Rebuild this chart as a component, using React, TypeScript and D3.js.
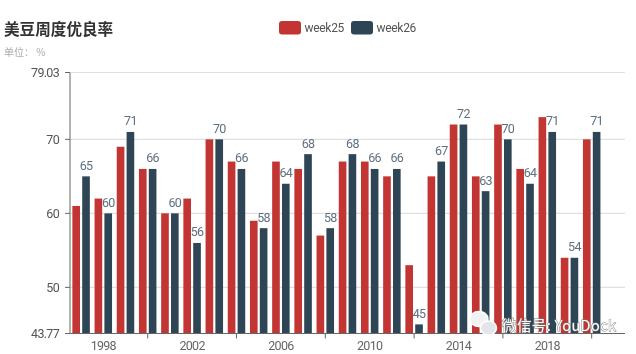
import React from "react";
import * as d3 from "d3";

const years = ["1997","1998","1999","2000","2001","2002","2003","2004","2005","2006","2007","2008","2009","2010","2011","2012","2013","2014","2015","2016","2017","2018","2019","2020","2021"];
const labelYears = ["1998","2002","2006","2010","2014","2018"];
const tickYears = ["2000","2004","2008","2012","2016","2020"];
const week25 = [61,62,69,66,60,62,70,67,59,67,66,57,67,67,65,53,65,72,65,72,66,73,54,70];
const week26 = [65,60,71,66,60,56,70,66,58,64,68,58,68,66,66,45,67,72,63,70,64,71,54,71];
const yTicks = [43.77,50,60,70,79.03];
const seriesNames = ["week25","week26"];
const seriesColors = ["#c23531","#2f4554"];

const FONT = 'Roboto,"Noto Sans",sans-serif';
const CJK = '"Noto Sans CJK SC",sans-serif';

export default function App() {
  const x = d3.scaleBand<string>().domain(years).range([70, 625]);
  const inner = d3.scaleBand<string>().domain(seriesNames).range([0, x.bandwidth()]).paddingInner(0.224).paddingOuter(0.24);
  const y = d3.scaleLinear().domain([43.77, 79.03]).range([333.5, 72.5]);
  const series = [week25, week26];
  const center = (yr: string) => (x(yr) as number) + x.bandwidth() / 2;
  return (
    <svg width={636} height={354} style={{ position: "absolute", left: 0, top: 0, background: "#fff" }}>
      <defs>
        <filter id="soft" x="-2%" y="-2%" width="104%" height="104%">
          <feGaussianBlur stdDeviation="0.5" />
        </filter>
      </defs>
      <g filter="url(#soft)">
        {yTicks.filter(t => t !== 43.77).map(t => (
          <line key={t} x1={70} x2={625} y1={y(t)} y2={y(t)} stroke="#e0e0e0" strokeWidth={1.2} />
        ))}
        {series.map((vals, s) => vals.map((v, i) => (
          <rect key={`${s}-${i}`} x={(x(years[i]) as number) + (inner(seriesNames[s]) as number)} width={inner.bandwidth()} y={y(v)} height={y(43.77) - y(v)} fill={seriesColors[s]} />
        )))}
        <line x1={70} x2={70} y1={72.5} y2={333.5} stroke="#666" strokeWidth={1} />
        <line x1={65} x2={625} y1={333.5} y2={333.5} stroke="#666" strokeWidth={1} />
        {yTicks.map(t => (
          <g key={t}>
            <line x1={65} x2={70} y1={y(t)} y2={y(t)} stroke="#666" />
            <text x={59} y={y(t) + 4.5} textAnchor="end" fontFamily={FONT} fontSize={12.5} letterSpacing={-0.7} fill="#555">{t}</text>
          </g>
        ))}
        {tickYears.map(t => (
          <line key={t} x1={center(t)} x2={center(t)} y1={333.5} y2={338.5} stroke="#666" />
        ))}
        {labelYears.map(t => (
          <text key={t} x={center(t)} y={349.5} textAnchor="middle" fontFamily={FONT} fontSize={12.5} letterSpacing={-0.7} fill="#666">{t}</text>
        ))}
        {week26.map((v, i) => (
          <text key={i} x={(x(years[i]) as number) + (inner("week26") as number) + inner.bandwidth() / 2} y={y(v) - 6.5} textAnchor="middle" fontFamily={FONT} fontSize={12.5} letterSpacing={-0.7} fill="#5f7080">{v}</text>
        ))}
        <text x={4} y={35} fontFamily={CJK} fontSize={15.6} fontWeight={700} fill="#333">美豆周度优良率</text>
        <text x={4} y={56} fontFamily={CJK} fontSize={10} fill="#aaa">单位： %</text>
        {seriesNames.map((n, i) => (
          <g key={n}>
            <rect x={279 + i * 72} y={21} width={22} height={13.5} rx={3} fill={seriesColors[i]} />
            <text x={304.5 + i * 72} y={32} fontFamily={FONT} fontSize={12} letterSpacing={-0.3} fill="#555">{n}</text>
          </g>
        ))}
        <g>
          <ellipse cx={479} cy={319} rx={9} ry={7.5} fill="#f2f2f2" stroke="#fff" strokeWidth={1.5} />
          <ellipse cx={488.5} cy={328} rx={8} ry={7} fill="#e3e6e8" stroke="#fff" strokeWidth={1.5} />
          <text x={502} y={331} fontFamily={CJK} fontSize={14.5} fill="#fff" stroke="#777" strokeWidth={0.9} style={{ paintOrder: "stroke" }} letterSpacing={0.4}>微信号: YouDock</text>
        </g>
      </g>
    </svg>
  );
}
